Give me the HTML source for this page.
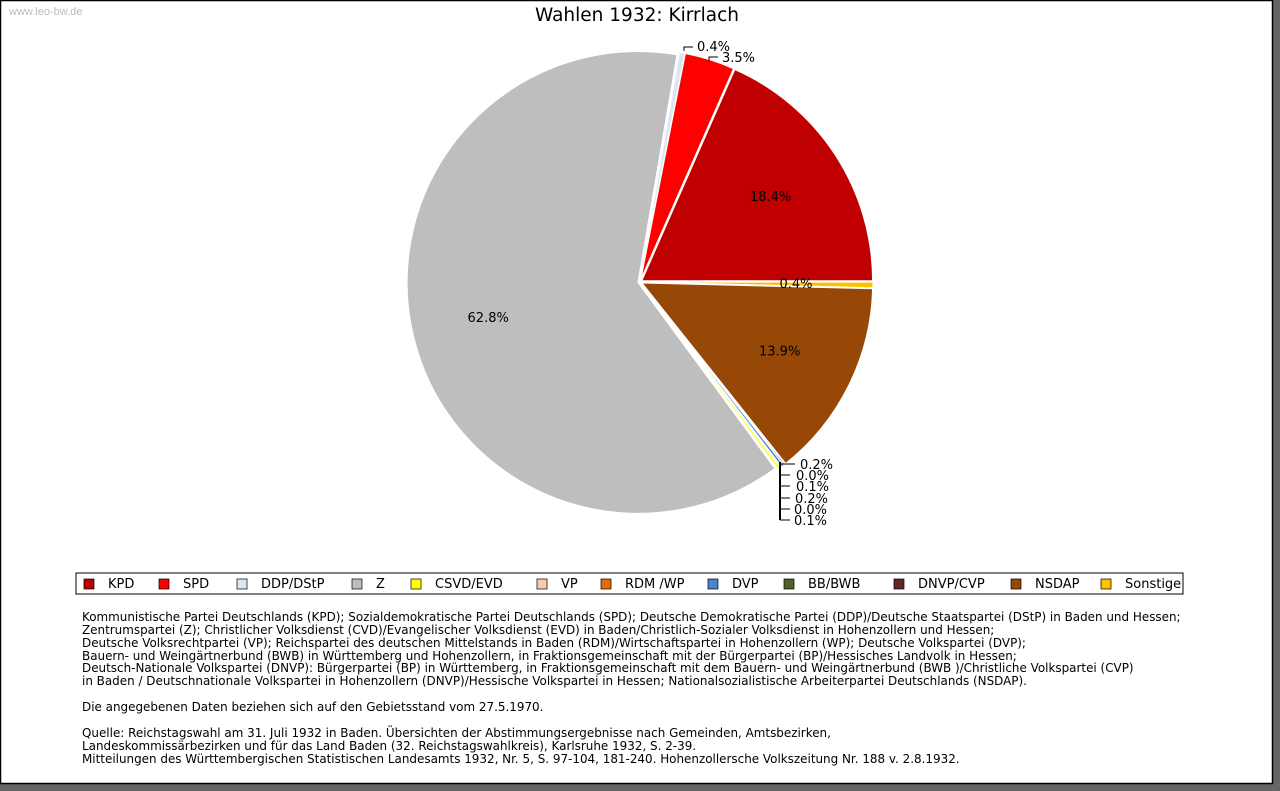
<!DOCTYPE html>
<html><head><meta charset="utf-8"><style>
html,body{margin:0;padding:0;background:#666;}
svg{display:block;font-family:"DejaVu Sans","Liberation Sans",sans-serif;}
</style></head><body>
<svg id="chart" width="1280" height="791" viewBox="0 0 1280 791" xmlns="http://www.w3.org/2000/svg">
<rect x="0" y="0" width="1280" height="791" fill="#666"/>
<rect x="0.5" y="0.5" width="1272" height="783" fill="#fff" stroke="#000" stroke-width="1.5"/>
<text x="9" y="15" font-size="11" fill="#bbb" font-family="Liberation Sans, sans-serif">www.leo-bw.de</text>
<text x="637" y="21" font-size="18.5" text-anchor="middle">Wahlen 1932: Kirrlach</text>
<g id="pie"></g>
<g id="legend"><rect x="76" y="573" width="1107" height="21" fill="#fff" stroke="#000"/></g>
<g font-size="11.95">
<text x="82" y="621">Kommunistische Partei Deutschlands (KPD); Sozialdemokratische Partei Deutschlands (SPD); Deutsche Demokratische Partei (DDP)/Deutsche Staatspartei (DStP) in Baden und Hessen;</text>
<text x="82" y="634">Zentrumspartei (Z); Christlicher Volksdienst (CVD)/Evangelischer Volksdienst (EVD) in Baden/Christlich-Sozialer Volksdienst in Hohenzollern und Hessen;</text>
<text x="82" y="647">Deutsche Volksrechtpartei (VP); Reichspartei des deutschen Mittelstands in Baden (RDM)/Wirtschaftspartei in Hohenzollern (WP); Deutsche Volkspartei (DVP);</text>
<text x="82" y="660">Bauern- und Weingärtnerbund (BWB) in Württemberg und Hohenzollern, in Fraktionsgemeinschaft mit der Bürgerpartei (BP)/Hessisches Landvolk in Hessen;</text>
<text x="82" y="672">Deutsch-Nationale Volkspartei (DNVP): Bürgerpartei (BP) in Württemberg, in Fraktionsgemeinschaft mit dem Bauern- und Weingärtnerbund (BWB )/Christliche Volkspartei (CVP)</text>
<text x="82" y="685">in Baden / Deutschnationale Volkspartei in Hohenzollern (DNVP)/Hessische Volkspartei in Hessen; Nationalsozialistische Arbeiterpartei Deutschlands (NSDAP).</text>
<text x="82" y="711">Die angegebenen Daten beziehen sich auf den Gebietsstand vom 27.5.1970.</text>
<text x="82" y="737">Quelle: Reichstagswahl am 31. Juli 1932 in Baden. Übersichten der Abstimmungsergebnisse nach Gemeinden, Amtsbezirken,</text>
<text x="82" y="750">Landeskommissärbezirken und für das Land Baden (32. Reichstagswahlkreis), Karlsruhe 1932, S. 2-39.</text>
<text x="82" y="763">Mitteilungen des Württembergischen Statistischen Landesamts 1932, Nr. 5, S. 97-104, 181-240. Hohenzollersche Volkszeitung Nr. 188 v. 2.8.1932.</text>
</g>
</svg>
<script>
const parties = ["KPD","SPD","DDP/DStP","Z","CSVD/EVD","VP","RDM /WP","DVP","BB/BWB","DNVP/CVP","NSDAP","Sonstige"];
const shares = [18.4,3.5,0.4,62.8,0.2,0.0,0.1,0.2,0.0,0.1,13.9,0.4];
const labels = ["18.4%","3.5%","0.4%","62.8%","0.2%","0.0%","0.1%","0.2%","0.0%","0.1%","13.9%","0.4%"];
const colors = ["#c00000","#ff0000","#dce6f2","#bebebe","#ffff00","#f8cbad","#e36c0a","#4a86d0","#4f6228","#632523","#974706","#ffc000"];
const legendX = [84,159,237,352,411,537,601,708,784,894,1011,1101];

const NS="http://www.w3.org/2000/svg";
const cx=640, cy=282, R=231, off=2;
const pieG=document.getElementById('pie');
const total=shares.reduce((a,b)=>a+b,0);
function mk(tag,attrs,parent){const e=document.createElementNS(NS,tag);for(const k in attrs)e.setAttribute(k,attrs[k]);parent.appendChild(e);return e;}
let a0=0;
const mids=[];
shares.forEach((v,i)=>{
  const sweep=v/total*2*Math.PI;
  const a1=a0+sweep, am=(a0+a1)/2;
  mids.push(am);
  const ox=cx+off*Math.cos(am), oy=cy-off*Math.sin(am);
  if(sweep>0){
    const x0=ox+R*Math.cos(a0), y0=oy-R*Math.sin(a0);
    const x1=ox+R*Math.cos(a1), y1=oy-R*Math.sin(a1);
    const large=sweep>Math.PI?1:0;
    const p=mk('path',{d:`M${ox},${oy} L${x0},${y0} A${R},${R} 0 ${large} 0 ${x1},${y1} Z`,fill:colors[i],stroke:'#fff','stroke-width':1.2},pieG);
    
    
  }
  a0=a1;
});
[0,3,10,11].forEach(i=>{
  const t=mk('text',{x:cx+156*Math.cos(mids[i]),y:cy-156*Math.sin(mids[i])+4,'font-size':13,'text-anchor':'middle'},pieG);
  t.textContent=labels[i];
  
  
});
const topLabels=[[684,47,697,51],[709,57,722,62]];
[2,1].forEach((i,k)=>{
  const [lx,ly,tx,ty]=topLabels[k];
  mk('path',{d:`M${lx},${ly+4} L${lx},${ly} L${lx+9},${ly}`,stroke:'#000',fill:'none'},pieG);
  const t=mk('text',{x:tx,y:ty,'font-size':13},pieG);t.textContent=labels[i];
  
  
});
const ys=[464,475,486,498,509,520];
mk('path',{d:`M780,462 L780,520`,stroke:'#000','stroke-width':2},pieG);
[4,5,6,7,8,9].forEach((i,k)=>{
  mk('path',{d:`M780,${ys[k]} L${k==0?795:790},${ys[k]}`,stroke:'#000'},pieG);
  const t=mk('text',{x:[800,796,796,795,794,794][k],y:ys[k]+5,'font-size':13},pieG);t.textContent=labels[i];
  
  
});
const lg=document.getElementById('legend');
parties.forEach((p,i)=>{
  const r=mk('rect',{x:legendX[i],y:579,width:10,height:10,fill:colors[i],stroke:'#000','stroke-width':0.7},lg);
  
  
  const t=mk('text',{x:legendX[i]+24,y:588,'font-size':13},lg);t.textContent=p;
  
  
});
</script>
</body></html>
